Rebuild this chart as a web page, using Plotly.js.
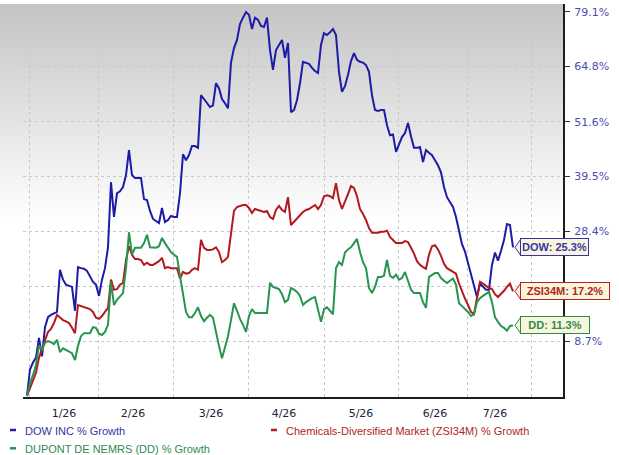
<!DOCTYPE html>
<html><head><meta charset="utf-8">
<script src="https://cdn.plot.ly/plotly-3.0.1.min.js"></script>
<style>html,body{margin:0;padding:0;background:#fff;}#chart{width:619px;height:455px;}</style>
</head><body><div id="chart"></div>
<script>
// % growth, one value per trading day
const dowGrowth = [
0.0,4.1,5.2,6.0,9.2,6.2,11.0,12.7,13.1,13.4,
13.6,21.1,19.3,18.4,18.2,18.0,13.8,21.6,21.4,21.3,
20.9,20.0,18.9,18.4,16.4,19.3,21.4,25.3,38.3,31.2,
36.0,36.4,37.3,39.8,45.2,39.8,39.2,39.2,39.2,34.8,
34.6,32.4,30.8,30.4,30.0,33.0,30.2,30.6,31.4,31.2,
31.2,36.0,44.3,43.0,44.1,46.1,46.1,45.7,57.8,56.9,
55.9,55.0,55.4,60.7,59.5,56.9,55.9,54.7,65.8,69.5,
71.6,75.8,77.5,79.0,78.3,74.5,77.5,76.9,75.3,75.0,
77.5,69.0,64.0,69.0,70.3,71.6,67.0,70.8,53.8,54.3,
56.6,60.7,66.0,65.8,65.5,64.5,63.7,63.2,70.3,73.4,
72.9,73.6,74.5,72.9,63.5,58.6,60.0,62.7,66.2,68.2,
66.5,66.0,65.8,65.2,63.5,57.8,54.3,54.1,54.3,54.3,
50.8,48.5,48.7,44.8,46.3,48.1,49.0,51.3,48.3,45.7,
45.7,45.9,42.6,45.2,44.6,44.1,43.0,41.9,40.4,37.3,
35.2,34.2,33.2,31.2,28.3,25.9,24.5,22.5,20.5,18.4,
16.2,18.6,18.0,17.5,17.5,22.0,24.3,22.8,24.6,26.7,
29.8,29.6,25.3];
const chemGrowth = [
0.0,1.1,2.5,3.6,6.0,7.5,8.7,10.2,10.7,11.7,
13.1,12.7,12.2,12.0,11.7,10.9,10.0,14.8,14.6,14.4,
14.3,14.1,13.6,12.6,12.4,12.9,13.6,14.3,19.3,17.5,
17.6,18.4,18.7,22.9,25.5,23.9,23.1,23.1,22.9,22.0,
22.4,22.0,22.0,22.4,22.7,23.3,21.4,21.6,21.4,21.4,
21.4,19.5,20.7,20.4,20.5,21.1,21.4,21.1,26.7,25.2,
24.8,24.8,24.9,25.3,24.4,22.5,22.9,23.5,27.7,32.4,
33.2,33.4,33.6,33.6,33.0,32.0,32.8,32.6,32.4,32.2,
32.4,31.2,30.8,32.6,33.4,32.6,32.2,35.2,29.6,30.2,
30.8,31.6,32.2,32.6,32.8,33.2,33.6,32.8,33.6,35.4,
35.6,35.4,35.0,38.1,34.6,32.8,34.2,35.8,37.5,37.1,
35.4,32.8,31.8,30.6,29.0,28.1,28.1,28.1,28.3,28.3,
28.5,27.3,26.7,26.1,26.1,26.1,26.5,26.3,25.2,24.1,
22.7,22.0,21.6,21.3,23.9,25.5,25.7,24.9,23.7,22.2,
21.4,21.1,20.7,20.4,18.6,17.1,15.9,14.8,13.6,13.2,
16.2,18.9,18.6,18.2,17.8,17.6,16.7,16.2,16.7,17.3,
18.0,18.6,17.2];
const ddGrowth = [
0.0,2.0,3.2,4.8,8.0,7.2,8.4,8.7,8.5,8.2,
8.9,6.9,7.5,7.2,6.9,6.7,5.6,7.9,9.5,10.0,
10.0,10.0,11.0,10.9,9.9,9.7,10.2,11.4,18.9,14.8,
15.7,16.4,16.9,21.4,28.2,23.9,25.2,25.2,25.2,26.1,
27.7,25.3,25.3,25.2,25.5,27.1,26.1,25.2,24.4,23.9,
23.5,20.0,16.9,13.6,12.7,12.7,13.4,14.4,12.9,12.0,
12.6,13.1,12.6,10.0,7.9,5.9,7.7,9.5,12.2,15.1,
13.8,12.4,11.4,10.2,12.9,14.1,13.4,13.4,13.4,13.4,
13.4,18.7,18.0,17.8,17.6,16.7,15.3,15.7,17.8,17.5,
17.1,16.4,14.8,15.3,15.7,16.0,16.2,13.8,11.9,14.1,
14.4,13.8,13.2,21.4,22.5,22.0,24.3,24.9,25.3,26.1,
26.9,24.4,22.5,21.4,17.8,16.9,18.0,19.8,19.8,20.0,
22.9,20.0,19.6,20.2,19.3,19.6,20.7,19.1,17.5,16.9,
16.9,16.9,15.3,14.3,19.8,20.2,20.5,20.5,19.6,19.1,
18.7,19.1,19.5,18.4,15.1,14.6,14.1,13.6,12.9,13.2,
15.3,16.0,16.4,16.7,17.1,15.3,12.7,11.9,11.2,10.9,
10.4,11.2,11.3];

const monthLabels = ['1/26','2/26','3/26','4/26','5/26','6/26','7/26'];
const monthLabelPos = [12.33, 35.33, 61.33, 85.67, 111.33, 136, 156];
const monthBounds = [1, 24, 48.67, 73.67, 99.33, 124, 146.67, 168.33];
const yTickPct = [8.7, 18.1, 28.4, 39.5, 51.6, 64.8, 79.1];

const seriesNames = ['DOW INC % Growth', 'Chemicals-Diversified Market (ZSI34M) % Growth', 'DUPONT DE NEMRS (DD) % Growth'];
const tagNames = ['DOW', 'ZSI34M', 'DD'];
const lineColors = ['#1c1ca6', '#b3191e', '#279450'];
const textColors = ['#3434a8', '#b22424', '#2e8b50'];

const all = [dowGrowth, chemGrowth, ddGrowth];
const days = dowGrowth.map((_, i) => i);
const toFactor = g => 1 + g / 100;

const traces = all.map((s, k) => ({
  x: days, y: s.map(toFactor), type: 'scatter', mode: 'lines',
  name: seriesNames[k], line: {color: lineColors[k], width: 2}, hoverinfo: 'skip'
}));

const grad = "<svg xmlns='http://www.w3.org/2000/svg' width='100' height='100' viewBox='0 0 100 100' preserveAspectRatio='none'><defs><linearGradient id='g' x1='0' y1='0' x2='0' y2='1'><stop offset='0' stop-color='#c4c4c4'/><stop offset='0.55' stop-color='#ffffff'/><stop offset='1' stop-color='#ffffff'/></linearGradient></defs><rect width='100' height='100' fill='url(#g)'/></svg>";

const tagBg = '#f8f5da';
const annotations = [];
const shapes = [];
const last = days.length - 1;
const tagW = [64, 85, 65];
all.forEach((s, k) => {
  const v = s[s.length - 1];
  // pointer of the end tag, anchored at the series' last point
  shapes.push({
    type: 'path', xref: 'x', yref: 'y', xsizemode: 'pixel', ysizemode: 'pixel',
    xanchor: last, yanchor: toFactor(v),
    path: 'M 2 0 L 8 8.5 L 8 -8.5 Z',
    fillcolor: tagBg, line: {color: textColors[k], width: 1}, layer: 'above'
  });
  annotations.push({
    x: last, y: Math.log10(toFactor(v)), xref: 'x', yref: 'y', showarrow: false,
    text: '<b>' + tagNames[k] + ': ' + v.toFixed(1) + '%</b>',
    xanchor: 'left', yanchor: 'middle', xshift: 7, width: tagW[k], height: 13,
    bgcolor: tagBg, bordercolor: textColors[k], borderwidth: 1, borderpad: 1.5,
    font: {family: 'Liberation Sans, Arial, sans-serif', size: 11, color: textColors[k]}
  });
});

// legend drawn as text + short key dashes
const legPos = [[0, -0.086], [0.4833, -0.086], [0, -0.1325]];
legPos.forEach((p, k) => {
  annotations.push({
    xref: 'paper', yref: 'paper', x: p[0], y: p[1], xanchor: 'left', yanchor: 'middle',
    showarrow: false, text: seriesNames[k],
    font: {family: 'Liberation Sans, Arial, sans-serif', size: 11, color: textColors[k]}
  });
  shapes.push({
    type: 'line', xref: 'paper', yref: 'paper',
    x0: p[0] - 0.0241, x1: p[0] - 0.0130, y0: p[1] + 0.002, y1: p[1] + 0.002,
    line: {color: lineColors[k], width: 2.5}
  });
});

const layout = {
  width: 619, height: 455,
  margin: {l: 23, r: 56, t: 4, b: 58},
  paper_bgcolor: '#ffffff', plot_bgcolor: 'rgba(0,0,0,0)',
  showlegend: false,
  images: [{
    source: 'data:image/svg+xml;charset=utf-8,' + encodeURIComponent(grad),
    xref: 'paper', yref: 'paper', x: -23 / 540, y: 1, sizex: 1 + 23 / 540, sizey: 1,
    xanchor: 'left', yanchor: 'top', sizing: 'stretch', layer: 'below'
  }],
  xaxis: {
    range: [-1.33, 178.67], showgrid: false, zeroline: false,
    showline: true, linecolor: '#1e1e1e', linewidth: 2,
    tickmode: 'array', tickvals: monthLabelPos, ticktext: monthLabels, ticks: '',
    ticklabelstandoff: 5,
    tickfont: {family: 'DejaVu Sans, sans-serif', size: 11, color: '#23233a'},
    minor: {tickmode: 'array', tickvals: monthBounds, showgrid: true,
            gridcolor: '#c9c9c9', griddash: 'dot', gridwidth: 1, ticks: ''}
  },
  yaxis: {
    type: 'log', range: [-0.000659, 0.25821], side: 'right',
    tickmode: 'array', tickvals: yTickPct.map(toFactor), ticktext: yTickPct.map(p => p.toFixed(1) + '%'),
    showgrid: true, gridcolor: '#c9c9c9', griddash: 'dot', gridwidth: 1, zeroline: false,
    showline: true, linecolor: '#1e1e1e', linewidth: 2,
    ticks: 'outside', ticklen: 5, tickcolor: '#333', tickwidth: 1, ticklabelstandoff: 2,
    tickfont: {family: 'DejaVu Sans, sans-serif', size: 11, color: '#4b4bb6'}
  },
  shapes: shapes,
  annotations: annotations
};

Plotly.newPlot('chart', traces, layout, {displayModeBar: false, staticPlot: true});
</script>
</body></html>
